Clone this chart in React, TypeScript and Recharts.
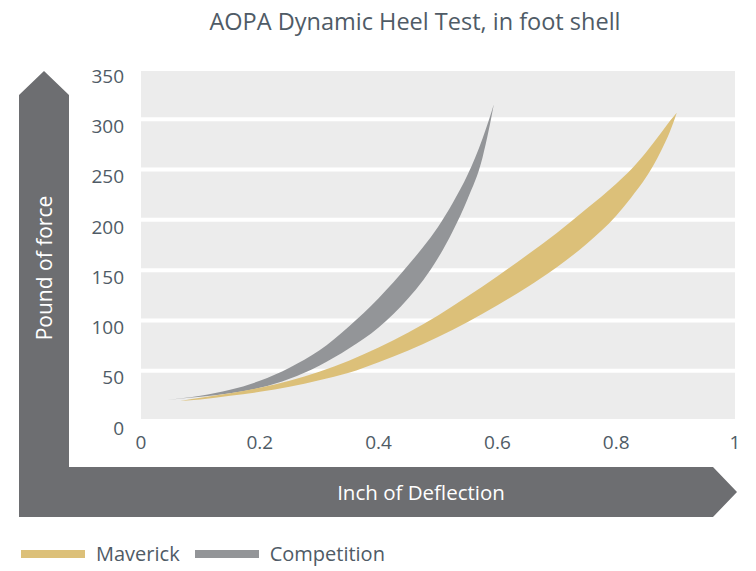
import React from "react";
import {
  ComposedChart,
  Area,
  XAxis,
  YAxis,
  CartesianGrid,
} from "recharts";

// Competition band (gray): lower and upper edge of the loop
const compX = [0.044, 0.1, 0.15, 0.2, 0.25, 0.3, 0.35, 0.4, 0.45, 0.475, 0.5, 0.525, 0.55, 0.575, 0.585, 0.594];
const compLow = [21, 24, 27.5, 33, 42, 55, 72, 93, 122, 140, 162, 189, 221, 262, 288, 315];
const compHigh = [21, 25, 31, 40, 53, 70, 94, 122, 155, 173, 193, 217, 245, 281, 298, 315];

// Maverick band (gold)
const mavX = [0.066, 0.1, 0.15, 0.2, 0.25, 0.3, 0.35, 0.4, 0.45, 0.5, 0.55, 0.6, 0.65, 0.7, 0.75, 0.8, 0.825, 0.85, 0.875, 0.89, 0.902];
const mavLow = [20, 21.5, 25, 29, 34, 40.5, 48, 58.5, 70, 83.5, 98.5, 115, 133, 153, 176, 204, 222, 242, 268, 287, 306.5];
const mavHigh = [20, 23, 27.5, 33, 40, 49, 60, 73, 88, 105, 124, 144, 165, 187, 211, 236, 250, 267, 286, 298, 306.5];

const xTicks = [0, 0.2, 0.4, 0.6, 0.8, 1];
const yTicks = [0, 50, 100, 150, 200, 250, 300, 350];

const series = [
  { name: "Maverick", color: "#dcc079" },
  { name: "Competition", color: "#939598" },
];

const FONT = "'Open Sans', sans-serif";
const TEXT = "#4f5b66";
const ARROW = "#6d6e71";

const compData = compX.map((x, i) => ({ x, range: [compLow[i], compHigh[i]] }));
const mavData = mavX.map((x, i) => ({ x, range: [mavLow[i], mavHigh[i]] }));

export default function App() {
  return (
    <div style={{ position: "absolute", left: 0, top: 0, width: 756, height: 571, background: "#fff" }}>
      {/* title and the big L-shaped axis arrows */}
      <svg width={756} height={571} style={{ position: "absolute", left: 0, top: 0 }}>
        <text x={415} y={21} textAnchor="middle" dominantBaseline="central" fontFamily={FONT} fontSize={23.5} fill={TEXT}>
          AOPA Dynamic Heel Test, in foot shell
        </text>
        <polygon
          points="19,95 44,71 69,95 69,467 713,467 737,492 713,517 19,517"
          fill={ARROW}
        />
        <text
          x={44}
          y={268}
          transform="rotate(-90 44 268)"
          textAnchor="middle"
          dominantBaseline="central"
          fontFamily={FONT}
          fontSize={21}
          fill="#fff"
        >
          Pound of force
        </text>
        <text x={421} y={492} textAnchor="middle" dominantBaseline="central" fontFamily={FONT} fontSize={20.5} fill="#fff">
          Inch of Deflection
        </text>
      </svg>
      <div style={{ position: "absolute", left: 0, top: 0 }}>
        <ComposedChart width={756} height={571} margin={{ top: 69, right: 21, bottom: 120, left: 0 }}>
          <CartesianGrid vertical={false} stroke="#ffffff" strokeWidth={4} fill="#ececec" />
          <XAxis
            dataKey="x"
            type="number"
            domain={[0, 1]}
            ticks={xTicks}
            allowDuplicatedCategory={false}
            axisLine={false}
            tickLine={false}
            tickSize={0}
            tickMargin={15}
            height={30}
            tick={{ fill: TEXT, fontSize: 19, fontFamily: FONT }}
          />
          <YAxis
            type="number"
            domain={[0, 350]}
            ticks={yTicks}
            axisLine={false}
            tickLine={false}
            tickSize={0}
            tickMargin={17}
            width={141}
            tick={{ fill: TEXT, fontSize: 19, fontFamily: FONT, dy: 7 }}
          />
          <Area
            data={compData}
            dataKey="range"
            type="monotone"
            stroke="none"
            fill="#939598"
            fillOpacity={1}
            isAnimationActive={false}
          />
          <Area
            data={mavData}
            dataKey="range"
            type="monotone"
            stroke="none"
            fill="#dcc079"
            fillOpacity={1}
            isAnimationActive={false}
          />
        </ComposedChart>
      </div>
      {/* 凡例 */}
      <div
        style={{
          position: "absolute",
          left: 21,
          top: 540,
          display: "flex",
          alignItems: "center",
          fontFamily: FONT,
          fontSize: 20,
          color: TEXT,
        }}
      >
        {series.map((s, i) => (
          <div key={s.name} style={{ display: "flex", alignItems: "center", marginLeft: i === 0 ? 0 : 15 }}>
            <span style={{ display: "inline-block", width: 64, height: 8, background: s.color, marginRight: 11 }} />
            <span>{s.name}</span>
          </div>
        ))}
      </div>
    </div>
  );
}
